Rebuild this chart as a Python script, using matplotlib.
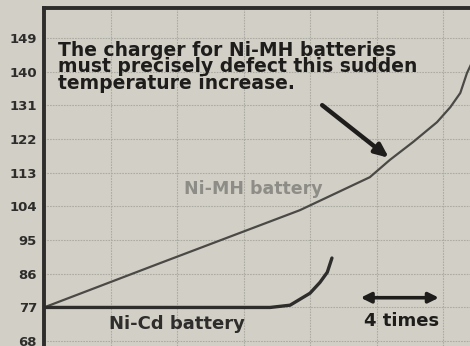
import numpy as np
import matplotlib.pyplot as plt

# temperature (deg F) against charge time (one grid column per unit)
temp_ticks = [68, 77, 86, 95, 104, 113, 122, 131, 140, 149]

nimh_t = [0, 1.74, 3.85, 4.90, 5.20, 5.55, 5.91, 6.11, 6.26, 6.36, 6.45]
nimh_temp = [77, 88.8, 103, 111.8, 116.4, 121.2, 126.5, 130.5, 134.3, 139.6, 143]

nicd_t = [0, 3.4, 3.70, 4.0, 4.15, 4.26, 4.33]
nicd_temp = [77, 77, 77.6, 80.8, 83.7, 86.4, 90.2]

bg = "#d2d0c6"
ink = "#2e2d2b"

fig = plt.figure(figsize=(4.7, 3.46), dpi=100, facecolor=bg)
ax = fig.add_axes([44 / 470, 0, 426 / 470, 338 / 346], facecolor=bg)
ax.set_xlim(0, 426 / 66.5)
ax.set_ylim(66.7, 157)

ax.set_yticks(temp_ticks)
ax.set_yticklabels([str(v) for v in temp_ticks], fontsize=9.5,
                   fontweight="bold", color=ink)
ax.tick_params(axis="y", length=0, pad=5)
ax.set_xticks(np.arange(0, 7))
ax.tick_params(axis="x", length=0, labelbottom=False)
ax.grid(True, color="#acaba3", linewidth=0.8, linestyle=(0, (1.5, 1)))

for side in ["right", "bottom"]:
    ax.spines[side].set_visible(False)
for side in ["left", "top"]:
    ax.spines[side].set_linewidth(2.8)
    ax.spines[side].set_color(ink)

ax.plot(nimh_t, nimh_temp, color="#4a4945", linewidth=1.6)
ax.plot(nicd_t, nicd_temp, color=ink, linewidth=2.4, solid_capstyle="round")

ax.text(0.21, 148.3, "The charger for Ni-MH batteries\nmust precisely defect this sudden\n"
        "temperature increase.", fontsize=13.5, fontweight="bold", color="#1e1d1b",
        va="top", ha="left", linespacing=0.84)
ax.annotate("", xy=(5.22, 116.5), xytext=(4.15, 131.5),
            arrowprops=dict(arrowstyle="-|>,head_length=0.8,head_width=0.35",
                            color="#1e1d1b", lw=3.2))

ax.text(3.15, 108.6, "Ni-MH battery", fontsize=12.5, fontweight="bold",
        color="#8d8c86", ha="center", va="center")
ax.text(0.97, 72.6, "Ni-Cd battery", fontsize=13, fontweight="bold",
        color=ink, ha="left", va="center")
ax.text(5.38, 73.4, "4 times", fontsize=13, fontweight="bold",
        color="#1e1d1b", ha="center", va="center")
ax.annotate("", xy=(5.98, 79.6), xytext=(4.72, 79.6),
            arrowprops=dict(arrowstyle="<|-|>,head_length=0.6,head_width=0.3",
                            color="#1e1d1b", lw=2.6))

fig.savefig("out.png", dpi=100, facecolor=bg)
